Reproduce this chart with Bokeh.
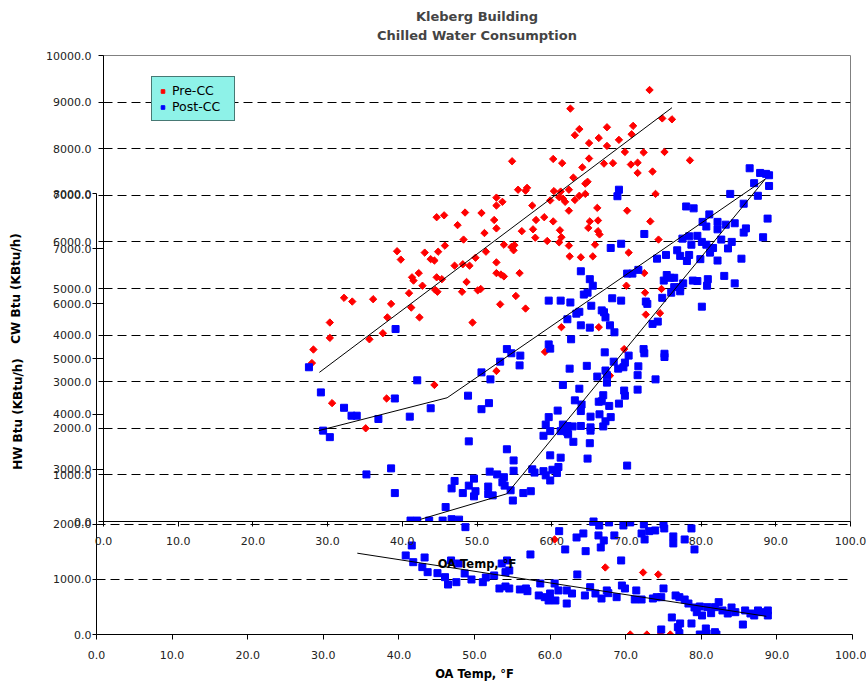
import math
from bokeh.plotting import figure
from bokeh.models import Range1d, FixedTicker, NumeralTickFormatter, Title, Legend, LegendItem
from bokeh.layouts import column
from bokeh.embed import file_html
from bokeh.resources import INLINE

# ---------------- data ----------------
temp_ticks = [0, 10, 20, 30, 40, 50, 60, 70, 80, 90, 100]
cw_ticks = [0, 1000, 2000, 3000, 4000, 5000, 6000, 7000, 8000, 9000, 10000]
hw_ticks = [0, 1000, 2000, 3000, 4000, 5000, 6000, 7000, 8000]

# Chilled water, Pre-CC (OA temp F, KBtu/h)
cw_pre_points = [
    (55.5, 7120), (52.6, 6950), (53.4, 6860), (52.6, 6780), (44.6, 6530), (45.6, 6570), (48.4, 6630),
    (50.6, 6620), (47.4, 6360), (52.3, 6470), (52.6, 6290), (51.0, 6190), (48.2, 6050), (45.7, 5920),
    (53.6, 5940), (54.6, 5890), (55.0, 5930), (54.9, 5820), (39.3, 5800), (43.0, 5770), (44.8, 5790),
    (39.8, 5620), (43.8, 5630), (44.3, 5600), (49.8, 5660), (51.2, 5790), (52.6, 5560), (47.0, 5490),
    (48.1, 5520), (49.0, 5490), (42.2, 5330), (41.3, 5240), (41.5, 5170), (44.6, 5240), (45.3, 5200),
    (52.6, 5330), (53.2, 5300), (53.6, 5260), (55.7, 5330), (48.6, 5140), (42.7, 5060), (44.4, 4970),
    (44.7, 4930), (40.9, 4900), (48.0, 4930), (50.1, 4960), (50.5, 4990), (55.2, 4840), (32.2, 4800),
    (33.3, 4720), (36.1, 4770), (38.5, 4670), (41.2, 4590), (53.1, 4660), (38.0, 4380), (42.3, 4380),
    (30.3, 4270), (49.4, 4270), (30.3, 3940), (35.6, 3910), (37.4, 4040), (28.1, 3690), (27.9, 3400),
    (52.6, 3230), (44.3, 2930), (37.9, 2640), (30.6, 2540), (35.1, 2000), (73.1, 9260), (62.5, 8860),
    (74.8, 8650), (76.1, 8630), (67.4, 8460), (63.7, 8420), (70.9, 8490), (63.1, 8290), (66.3, 8230),
    (70.7, 8310), (69.0, 8190), (65.0, 8120), (67.4, 8060), (69.8, 7930), (72.3, 7920), (75.1, 7930),
    (54.7, 7730), (60.2, 7780), (61.4, 7690), (65.0, 7790), (67.0, 7680), (68.2, 7690), (70.6, 7660),
    (71.5, 7700), (78.5, 7750), (64.1, 7600), (71.5, 7480), (73.5, 7510), (62.9, 7380), (64.8, 7290),
    (64.5, 7250), (56.7, 7160), (56.5, 7100), (60.3, 7090), (61.2, 7080), (62.3, 7120), (63.7, 6990),
    (64.5, 7030), (61.0, 6960), (59.8, 6890), (61.5, 6930), (61.8, 6860), (63.1, 6900), (73.9, 7030),
    (57.4, 6780), (66.1, 6730), (62.3, 6670), (70.1, 6670), (57.9, 6470), (59.0, 6530), (60.2, 6440),
    (65.1, 6440), (66.2, 6460), (73.2, 6440), (57.5, 6270), (61.1, 6250), (64.9, 6300), (56.0, 6230),
    (66.2, 6230), (66.4, 6160), (57.8, 6090), (61.3, 6100), (59.4, 6020), (61.0, 5990), (62.3, 5920),
    (65.8, 5940), (74.3, 6050), (70.3, 5770), (62.4, 5690), (63.9, 5670), (65.5, 5690), (72.4, 5330),
    (70.0, 5060), (72.5, 4910), (74.7, 4990), (56.5, 4570), (72.6, 4440), (74.5, 4470), (69.7, 3700),
    (61.3, 4170), (66.3, 4170), (59.1, 3640), (67.8, 3130),
]

# Chilled water, Post-CC
cw_post_points = [
    (39.1, 4130), (27.5, 3310), (29.1, 2770), (42.0, 3030), (39.0, 2640), (48.8, 2700), (50.6, 3200),
    (51.8, 3050), (53.1, 3430), (54.0, 3700), (54.6, 3610), (55.8, 3560), (55.7, 3350), (32.2, 2440),
    (33.2, 2270), (33.9, 2270), (36.8, 2200), (29.4, 1950), (30.3, 1810), (35.2, 1010), (38.5, 1140),
    (39.0, 610), (41.0, 2250), (69.0, 7120), (68.8, 6980), (78.0, 6760), (79.0, 6720), (72.4, 6170),
    (69.3, 5960), (67.9, 5870), (77.5, 6070), (78.4, 6120), (79.5, 6130), (78.7, 5940), (75.3, 5720),
    (74.1, 5640), (76.8, 5820), (77.2, 5700), (78.4, 5720), (78.1, 5590), (63.9, 5370), (65.1, 5200),
    (65.5, 5060), (64.3, 4870), (64.8, 4910), (70.1, 5320), (70.8, 5320), (71.6, 5400), (75.4, 5290),
    (75.9, 5230), (76.4, 5230), (75.0, 5170), (77.6, 5110), (78.9, 5170), (79.5, 5160), (76.4, 5030),
    (77.2, 4940), (76.0, 4910), (59.6, 4740), (61.2, 4740), (62.5, 4700), (68.1, 4790), (69.3, 4740),
    (72.6, 4720), (74.8, 4800), (65.3, 4630), (66.7, 4530), (86.5, 7580), (87.9, 7480), (88.7, 7460),
    (89.1, 7430), (87.1, 7260), (89.1, 7200), (87.6, 6990), (83.9, 7030), (85.7, 6820), (88.9, 6500),
    (81.1, 6590), (80.2, 6430), (82.2, 6430), (80.7, 6330), (83.3, 6370), (84.5, 6400), (82.2, 6270),
    (86.0, 6290), (85.7, 6200), (88.3, 6100), (82.7, 6050), (84.1, 6000), (80.1, 6000), (80.7, 5940),
    (81.6, 5870), (81.2, 5770), (83.6, 5860), (79.9, 5630), (82.2, 5600), (85.4, 5640), (80.9, 5200),
    (80.8, 5060), (83.1, 5270), (84.5, 5110), (77.2, 5030), (72.8, 4670), (80.1, 4610), (67.0, 4490),
    (67.2, 4380), (67.8, 4210), (68.4, 4060), (73.5, 4240), (74.2, 4290), (72.3, 3700), (63.9, 4210),
    (65.1, 4160), (62.6, 3910), (59.6, 3800), (59.8, 3710), (64.7, 3340), (62.4, 3280), (66.1, 3110),
    (61.5, 2930), (63.7, 2850), (51.6, 2540), (50.6, 2410), (43.8, 2430), (63.1, 2600), (64.0, 2510),
    (63.9, 2370), (66.3, 2570), (60.8, 2380), (59.6, 2240), (65.2, 2250), (59.2, 2080), (59.8, 1940),
    (58.9, 1840), (61.5, 2080), (62.1, 2050), (62.8, 2040), (63.9, 2050), (61.2, 1940), (62.2, 1870),
    (62.9, 1710), (65.2, 2020), (65.1, 1680), (48.9, 1720), (54.0, 1550), (54.9, 1310), (59.8, 1420),
    (61.2, 1370), (64.8, 1350), (51.7, 1070), (52.7, 1010), (53.6, 950), (54.9, 1090), (57.4, 1120),
    (57.7, 1050), (58.9, 1080), (60.1, 1110), (60.9, 1170), (59.2, 990), (60.7, 1040), (59.8, 880),
    (49.6, 920), (47.0, 870), (53.4, 840), (53.7, 770), (48.9, 770), (51.5, 750), (46.6, 710),
    (49.8, 650), (48.1, 610), (49.6, 540), (51.5, 590), (52.1, 560), (54.5, 670), (56.2, 610),
    (57.2, 650), (54.8, 450), (45.8, 310), (41.1, 20), (42.0, 20), (43.6, 20), (45.4, 20), (46.6, 50),
    (47.6, 40), (65.6, 0), (63.7, 4500), (63.3, 4460), (62.1, 4340), (67.1, 3630), (72.4, 3610),
    (75.1, 3600), (75.1, 3530), (70.3, 3560), (69.8, 3410), (69.6, 3310), (68.9, 3280), (68.3, 3430),
    (71.6, 3330), (67.2, 3240), (67.4, 3140), (71.5, 3140), (73.9, 3050), (67.4, 2980), (69.7, 2810),
    (69.8, 2700), (71.5, 2830), (66.9, 2710), (66.7, 2580), (67.7, 2480), (69.0, 2530), (66.4, 2300),
    (67.9, 2240), (67.2, 2150), (66.9, 2040), (65.2, 1950), (62.1, 1910), (61.7, 2040), (70.1, 1200),
]

# Hot water, Post-CC
hw_post_points = [
    (41.7, 1615), (40.9, 1434), (41.9, 1312), (43.4, 1397), (43.1, 1222), (43.8, 1131), (45.1, 1113),
    (46.1, 1040), (46.5, 907), (47.6, 949), (46.9, 1343), (47.9, 1288), (48.8, 1947), (49.6, 998),
    (48.7, 1107), (51.1, 949), (51.5, 1034), (52.6, 1071), (53.3, 835), (53.6, 1288), (54.1, 1131),
    (54.6, 1161), (54.3, 1343), (54.1, 871), (54.6, 835), (56.0, 817), (56.8, 835), (57.0, 786),
    (57.4, 1452), (58.7, 925), (58.5, 708), (59.3, 677), (60.0, 744), (59.8, 617), (60.6, 925),
    (60.7, 617), (61.1, 799), (61.2, 1875), (62.0, 1543), (62.2, 562), (62.2, 799), (62.9, 744),
    (63.5, 1760), (63.6, 1089), (64.4, 1833), (64.7, 1512), (64.6, 708), (65.3, 858), (66.0, 744),
    (66.4, 1797), (66.7, 1579), (66.8, 653), (67.1, 1706), (67.5, 799), (67.7, 750), (68.5, 1797),
    (68.8, 677), (69.4, 1343), (69.5, 889), (69.9, 835), (70.5, 2056), (69.7, 1978), (71.4, 799),
    (71.2, 635), (72.1, 635), (72.1, 1833), (72.5, 1724), (72.4, 1996), (73.1, 1875), (73.9, 1887),
    (73.6, 653), (74.1, 677), (74.7, 677), (75.0, 835), (75.1, 1924), (75.0, 1996), (76.3, 1779),
    (76.3, 1652), (76.1, 309), (76.6, 708), (77.1, 677), (76.9, 133), (77.2, 200), (77.1, 24),
    (74.7, 91), (77.8, 635), (77.8, 1724), (78.3, 562), (78.7, 1924), (78.7, 200), (79.1, 1543),
    (79.1, 490), (79.4, 405), (79.8, 508), (80.1, 345), (79.8, 0), (80.6, 109), (80.7, 18),
    (80.8, 496), (81.3, 387), (81.8, 42), (82.0, 0), (81.8, 496), (82.3, 587), (82.8, 436),
    (83.5, 381), (84.0, 490), (84.5, 405), (85.5, 181), (85.8, 436), (86.5, 381), (87.5, 436),
    (88.0, 405), (88.8, 345), (88.8, 436), (87.0, 345), (65.7, 2045), (66.5, 1978), (67.8, 2033),
    (70.6, 2033),
]

# Hot water, Pre-CC
hw_pre_points = [
    (60.6, 1724), (67.3, 1216), (72.3, 1125), (74.3, 1089), (70.6, 0), (72.8, 0), (74.6, 0), (75.9, 0),
]

# model lines
cw_pre_fit_temp = [28.9, 76.1]
cw_pre_fit_kbtu = [3200, 8880]
cw_post_fit1_temp = [28.8, 46.0, 88.6]
cw_post_fit1_kbtu = [1950, 2655, 7350]
cw_post_fit2_temp = [42.4, 54.0, 88.6]
cw_post_fit2_kbtu = [45, 595, 7350]
hw_fit_temp = [34.5, 88.6]
hw_fit_kbtu = [1475, 330]

pre_temp, pre_cw = zip(*cw_pre_points)
post_temp, post_cw = zip(*cw_post_points)
hwpost_temp, hwpost_kbtu = zip(*hw_post_points)
hwpre_temp, hwpre_kbtu = zip(*hw_pre_points)

FONT = "DejaVu Sans"
RED = "#FF0000"
BLUE = "#0000FF"


def style_axis(ax, ticks, label_size, tick_out=5):
    ax.ticker = FixedTicker(ticks=ticks)
    ax.formatter = NumeralTickFormatter(format="0.0")
    ax.axis_line_color = "black"
    ax.axis_line_width = 1
    ax.major_tick_line_color = "black"
    ax.major_tick_in = 0
    ax.major_tick_out = tick_out
    ax.minor_tick_line_color = None
    ax.major_label_text_font = FONT
    ax.major_label_text_font_size = "11px"
    ax.major_label_text_color = "#222222"
    ax.axis_label_text_font = FONT
    ax.axis_label_text_font_style = "bold"
    ax.axis_label_text_font_size = label_size
    ax.axis_label_text_color = "black"


# ---------------- hot-water chart (underneath) ----------------
pB = figure(width=866, height=683, x_range=Range1d(0, 100), y_range=Range1d(0, 8000),
            output_backend="svg", toolbar_location=None,
            min_border_left=96, min_border_right=14, min_border_top=193, min_border_bottom=49)
pB.frame_align = False
pB.outline_line_color = None
pB.background_fill_color = "white"
pB.border_fill_color = "white"
pB.xgrid.grid_line_color = None
pB.ygrid.ticker = FixedTicker(ticks=hw_ticks)
pB.ygrid.grid_line_color = "black"
pB.ygrid.grid_line_dash = "9 5"
pB.ygrid.grid_line_width = 1
style_axis(pB.xaxis[0], temp_ticks, "11.5px")
style_axis(pB.yaxis[0], hw_ticks, "12px", tick_out=4)
pB.xaxis.axis_label = "OA Temp, °F"
pB.yaxis.axis_label = "HW Btu (KBtu/h)"
pB.xaxis.major_label_standoff = 11
pB.xaxis.axis_label_standoff = 5
pB.yaxis.major_label_standoff = 1
pB.yaxis.axis_label_standoff = 25

pB.scatter(hwpre_temp, hwpre_kbtu, marker="square", angle=math.pi / 4, size=5.2,
           fill_color=RED, line_color=RED)
pB.scatter(hwpost_temp, hwpost_kbtu, marker="square", size=7, fill_color=BLUE, line_color=BLUE)
pB.line(hw_fit_temp, hw_fit_kbtu, line_color="black", line_width=1)

# ---------------- chilled-water chart (on top) ----------------
pA = figure(width=866, height=575, x_range=Range1d(0, 100), y_range=Range1d(0, 10000),
            output_backend="svg", toolbar_location=None,
            min_border_left=103, min_border_right=16, min_border_top=55, min_border_bottom=54)
pA.frame_align = False
pA.margin = (-683, 0, 0, 0)
pA.background_fill_color = "white"
pA.border_fill_color = None
pA.outline_line_color = "#808080"
pA.outline_line_width = 1
pA.xgrid.grid_line_color = None
pA.ygrid.ticker = FixedTicker(ticks=cw_ticks)
pA.ygrid.grid_line_color = "black"
pA.ygrid.grid_line_dash = "9 5"
pA.ygrid.grid_line_width = 1
style_axis(pA.xaxis[0], temp_ticks, "11.5px")
style_axis(pA.yaxis[0], cw_ticks, "12px")
pA.xaxis.axis_label = "OA Temp, °F"
pA.yaxis.axis_label = "CW Btu (KBtu/h)"
pA.xaxis.major_label_standoff = 10
pA.xaxis.axis_label_standoff = 9
pA.yaxis.major_label_standoff = 7
pA.yaxis.axis_label_standoff = 20

pA.title.text = "Kleberg Building"
pA.title.align = "center"
pA.title.text_font = FONT
pA.title.text_font_size = "13px"
pA.title.text_font_style = "bold"
pA.title.standoff = -21
pA.add_layout(Title(text="Chilled Water Consumption", align="center", text_font=FONT,
                    text_font_size="13px", text_font_style="bold", standoff=24.5), "above")

r_pre = pA.scatter(pre_temp, pre_cw, marker="square", angle=math.pi / 4, size=5.2,
                   fill_color=RED, line_color=RED)
r_post = pA.scatter(post_temp, post_cw, marker="square", size=7, fill_color=BLUE, line_color=BLUE)
pA.line(cw_pre_fit_temp, cw_pre_fit_kbtu, line_color="black", line_width=1)
pA.line(cw_post_fit1_temp, cw_post_fit1_kbtu, line_color="black", line_width=1)
pA.line(cw_post_fit2_temp, cw_post_fit2_kbtu, line_color="black", line_width=1)

legend = Legend(items=[LegendItem(label="Pre-CC", renderers=[r_pre]),
                       LegendItem(label="Post-CC", renderers=[r_post])],
                location=(48, 400))
legend.background_fill_color = "#8EF2E8"
legend.background_fill_alpha = 1
legend.border_line_color = "black"
legend.border_line_width = 1
legend.padding = 6
legend.spacing = 1
legend.margin = 0
legend.glyph_width = 9
legend.glyph_height = 14
legend.label_height = 14
legend.label_width = 56
legend.label_standoff = 5
legend.label_text_font = FONT
legend.label_text_font_size = "12.5px"
legend.label_text_color = "black"
pA.add_layout(legend)

layout = column(pB, pA)
open("out.html", "w").write(file_html(layout, INLINE))
